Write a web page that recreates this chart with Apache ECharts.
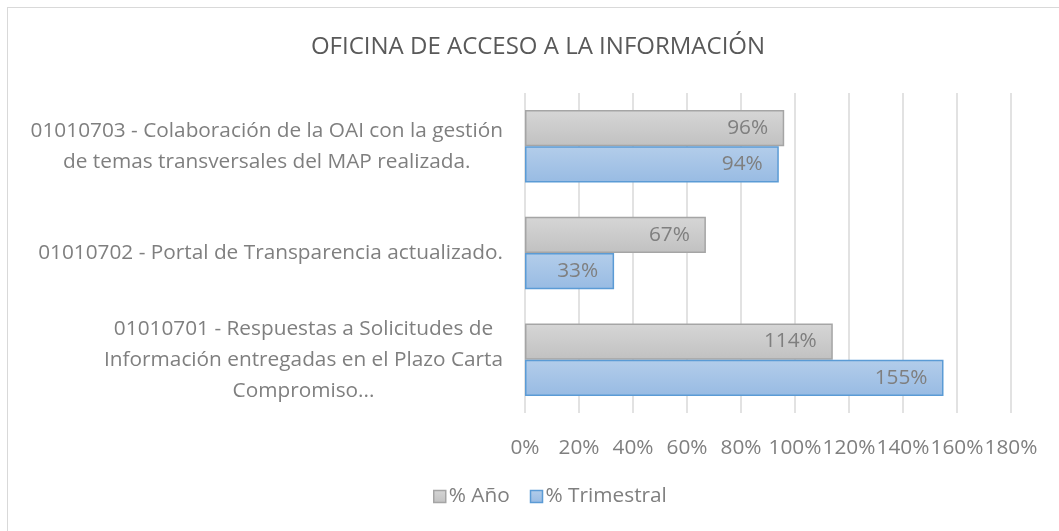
<!DOCTYPE html>
<html>
<head>
<meta charset="utf-8">
<script src="https://cdn.jsdelivr.net/npm/echarts@6/dist/echarts.min.js"></script>
<style>
  html, body { margin: 0; padding: 0; background: #fff; }
  #main { width: 1059px; height: 531px; }
  #frame { position: absolute; left: 7px; top: 7px; right: 0; bottom: 0;
           border-left: 1px solid #d9d9d9; border-top: 1px solid #d9d9d9; pointer-events: none; }
</style>
</head>
<body>
<div id="main"></div>
<div id="frame"></div>
<script>
    // categorias (de abajo hacia arriba)
    var categories = [
        '01010701 - Respuestas a Solicitudes de\nInformación entregadas en el Plazo Carta\nCompromiso...',
        '01010702 - Portal de Transparencia actualizado.',
        '01010703 - Colaboración de la OAI con la gestión\nde temas transversales del MAP realizada.'
    ];
    var seriesNames = ['% Año', '% Trimestral'];
    var anioValues = [114, 67, 96];
    var trimestralValues = [155, 33, 94];
    var xTicks = { min: 0, max: 180, interval: 20 };

    var textColor = '#7f7f7f';
    var fontName = 'Open Sans';
    var fs = 20.8;

    var myChart = echarts.init(document.getElementById('main'));

    function grad(top, bottom) {
        return new echarts.graphic.LinearGradient(0, 0, 0, 1, [
            { offset: 0, color: top },
            { offset: 1, color: bottom }
        ]);
    }

    var option = {
        backgroundColor: 'transparent',
        title: {
            text: 'OFICINA DE ACCESO A LA INFORMACIÓN',
            left: 533,
            textAlign: 'center',
            top: 30,
            textStyle: { color: '#595959', fontSize: 24, fontWeight: 'normal', fontFamily: fontName }
        },
        legend: {
            data: seriesNames,
            bottom: 19,
            left: 428,
            icon: 'rect',
            itemWidth: 12,
            itemHeight: 12,
            itemGap: 20,
            itemStyle: { borderWidth: 1.5 },
            textStyle: { color: textColor, fontSize: fs, fontFamily: fontName, padding: [0, 0, 0, -2] }
        },
        grid: { left: 525, right: 48, top: 93, bottom: 118 },
        xAxis: {
            type: 'value',
            min: xTicks.min,
            max: xTicks.max,
            interval: xTicks.interval,
            axisLine: { show: false },
            axisTick: { show: false },
            splitLine: { lineStyle: { color: '#d9d9d9', width: 1.5 } },
            axisLabel: {
                formatter: '{value}%',
                color: textColor,
                fontSize: fs,
                fontFamily: fontName,
                margin: 25,
                hideOverlap: false
            }
        },
        yAxis: {
            type: 'category',
            data: categories,
            axisLine: { show: false },
            axisTick: { show: false },
            axisLabel: {
                margin: 22,
                formatter: function (v) {
                    return v.split('\n').map(function (l) { return '{a|' + l + '}'; }).join('\n');
                },
                rich: {
                    a: { align: 'center', color: textColor, fontSize: fs, fontFamily: fontName, lineHeight: 31 }
                }
            }
        },
        series: [{
            name: seriesNames[0],
            type: 'bar',
            data: anioValues,
            barCategoryGap: '32%',
            barGap: '0%',
            itemStyle: { color: grad('#d6d6d6', '#c1c1c1'), borderColor: '#a5a5a5', borderWidth: 1.5 },
            label: {
                show: true, position: 'insideRight', distance: 16, formatter: '{c}%',
                color: textColor, fontSize: fs, fontFamily: fontName
            }
        }, {
            name: seriesNames[1],
            type: 'bar',
            data: trimestralValues,
            barCategoryGap: '32%',
            barGap: '0%',
            itemStyle: { color: grad('#b3cdea', '#98bbe3'), borderColor: '#5b9bd5', borderWidth: 1.5 },
            label: {
                show: true, position: 'insideRight', distance: 16, formatter: '{c}%',
                color: textColor, fontSize: fs, fontFamily: fontName
            }
        }]
    };
    myChart.setOption(option);
</script>
</body>
</html>
